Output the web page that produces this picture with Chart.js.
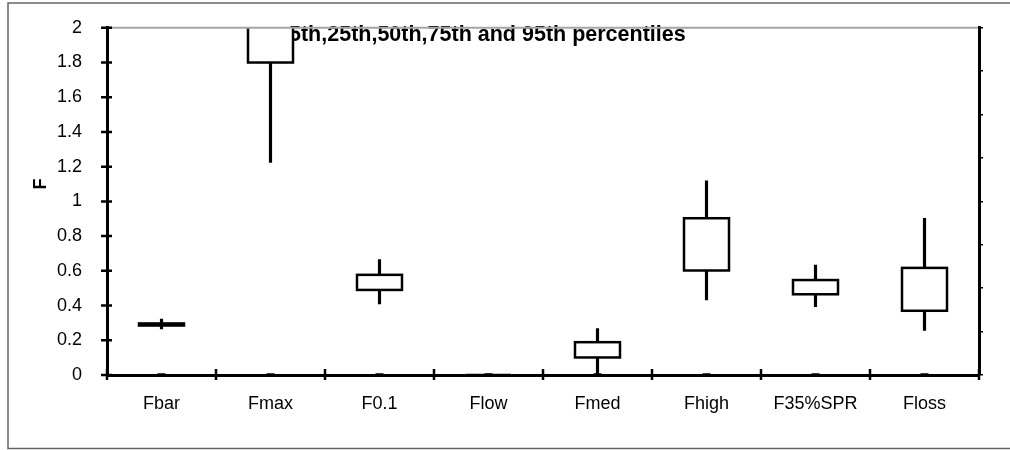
<!DOCTYPE html>
<html>
<head>
<meta charset="utf-8">
<script src="https://cdn.jsdelivr.net/npm/chart.js@4/dist/chart.umd.min.js"></script>
<style>
  html, body { margin: 0; padding: 0; background: #ffffff; }
  #wrap { width: 1010px; height: 450px; position: relative; }
</style>
</head>
<body>
<div id="wrap"><canvas id="chart" width="1010" height="450"></canvas></div>
<script>
// Reference points of F, spread as 5th / 25th / 75th / 95th percentiles
const categories = ['Fbar', 'Fmax', 'F0.1', 'Flow', 'Fmed', 'Fhigh', 'F35%SPR', 'Floss'];
const p5  = [0.265, 1.225, 0.410, 0, 0,     0.432, 0.394, 0.257];
const p25 = [0.285, 1.800, 0.490, 0, 0.101, 0.602, 0.465, 0.370];
const p75 = [0.297, 2.400, 0.577, 0, 0.189, 0.903, 0.547, 0.617];
const p95 = [0.322, 2.800, 0.665, 0, 0.267, 1.118, 0.633, 0.903];
const baseMarks = [0, 0, 0, 0, 0, 0, 0, 0];

const yTicks = { min: 0, max: 2, step: 0.2 };
const y2Ticks = { min: 0, max: 0.8, step: 0.1 };

const titleText = '5th,25th,50th,75th and 95th percentiles';
const axisTitle = 'F';
const FONT = "'Liberation Sans', Arial, sans-serif";

const whiskers = categories.map((_, i) => [p5[i], p95[i]]);
const boxes = categories.map((_, i) => [p25[i], p75[i]]);

// Title sits behind the marks, so it goes in before the datasets
const titlePlugin = {
  id: 'percentileTitle',
  beforeDatasetsDraw(chart) {
    const ctx = chart.ctx;
    ctx.save();
    ctx.font = 'bold 21.5px ' + FONT;
    ctx.fillStyle = '#000';
    ctx.textAlign = 'left';
    ctx.textBaseline = 'middle';
    ctx.fillText(titleText, 289, 35);
    ctx.restore();
  }
};

// Outline for each box, drawn around the bar elements
const boxOutline = {
  id: 'boxOutline',
  afterDatasetDraw(chart, args) {
    if (args.index !== 1) return;
    const ctx = chart.ctx;
    const a = chart.chartArea;
    ctx.save();
    ctx.beginPath();
    ctx.rect(a.left, a.top, a.right - a.left, a.bottom - a.top + 3);
    ctx.clip();
    ctx.strokeStyle = '#000';
    ctx.lineWidth = 2.5;
    args.meta.data.forEach(el => {
      const p = el.getProps(['x', 'y', 'base', 'width'], true);
      const top = Math.min(p.y, p.base);
      const h = Math.abs(p.base - p.y);
      ctx.strokeRect(p.x - p.width / 2, top, p.width, h);
    });
    ctx.restore();
  }
};

// Frame, top edge of the plot, crossing tick marks and axis title
const framePlugin = {
  id: 'frame',
  beforeDraw(chart) {
    const ctx = chart.ctx;
    ctx.save();
    ctx.fillStyle = '#fff';
    ctx.fillRect(0, 0, chart.width, chart.height);
    ctx.strokeStyle = '#666';
    ctx.lineWidth = 1.5;
    ctx.strokeRect(8, 3, chart.width + 20, chart.height - 4.5);
    ctx.restore();
  },
  afterDraw(chart) {
    const ctx = chart.ctx;
    const a = chart.chartArea;
    const xs = chart.scales.x;
    const ys = chart.scales.y;
    ctx.save();
    ctx.strokeStyle = '#a6a6a6';
    ctx.lineWidth = 2;
    ctx.beginPath();
    ctx.moveTo(a.left + 1, a.top);
    ctx.lineTo(a.right - 1, a.top);
    ctx.stroke();

    ctx.strokeStyle = '#000';
    ctx.lineWidth = 2.5;
    ctx.beginPath();
    ys.ticks.forEach((t, i) => {
      const y = ys.getPixelForTick(i);
      ctx.moveTo(a.left - 6, y);
      ctx.lineTo(a.left + 5, y);
    });
    const n = categories.length;
    const step = (xs.right - xs.left) / n;
    for (let i = 0; i <= n; i++) {
      const x = xs.left + i * step;
      ctx.moveTo(x, a.bottom - 6);
      ctx.lineTo(x, a.bottom + 5);
    }
    ctx.stroke();

    ctx.font = 'bold 18px ' + FONT;
    ctx.fillStyle = '#000';
    ctx.textAlign = 'center';
    ctx.textBaseline = 'middle';
    ctx.translate(41, 184);
    ctx.rotate(-Math.PI / 2);
    ctx.fillText(axisTitle, 0, 0);
    ctx.restore();
  }
};

new Chart(document.getElementById('chart'), {
  data: {
    labels: categories,
    datasets: [
      {
        type: 'bar',
        label: '5th-95th',
        data: whiskers,
        backgroundColor: '#000',
        borderWidth: 0,
        barThickness: 2.5,
        grouped: false,
        order: 3
      },
      {
        type: 'bar',
        label: '25th-75th',
        data: boxes,
        backgroundColor: '#fff',
        borderWidth: 0,
        barThickness: 45,
        grouped: false,
        order: 2
      },
      {
        type: 'line',
        label: 'base',
        data: baseMarks,
        showLine: false,
        pointStyle: 'line',
        pointRadius: 4,
        pointBorderWidth: 3.5,
        pointBorderColor: '#000',
        clip: false,
        order: 1
      }
    ]
  },
  options: {
    responsive: false,
    animation: false,
    events: [],
    layout: { padding: { top: 25, left: 0, right: 0, bottom: 0 } },
    plugins: {
      legend: { display: false },
      title: { display: false },
      tooltip: { enabled: false }
    },
    scales: {
      x: {
        type: 'category',
        offset: true,
        grid: { display: false, offset: true },
        border: { display: true, color: '#000', width: 3 },
        ticks: {
          color: '#000',
          font: { family: FONT, size: 18 },
          padding: 10,
          maxRotation: 0,
          autoSkip: false
        },
        afterFit(s) { s.height = 75; }
      },
      y: {
        type: 'linear',
        position: 'left',
        min: yTicks.min,
        max: yTicks.max,
        grid: { display: false },
        border: { display: true, color: '#000', width: 3 },
        ticks: {
          stepSize: yTicks.step,
          color: '#000',
          font: { family: FONT, size: 18 },
          padding: 17,
          callback: v => String(Math.round(v * 10) / 10)
        },
        afterFit(s) { s.width = 107; }
      },
      y2: {
        type: 'linear',
        position: 'right',
        min: y2Ticks.min,
        max: y2Ticks.max,
        grid: {
          display: true,
          drawOnChartArea: false,
          drawTicks: true,
          tickLength: 4,
          color: '#000',
          lineWidth: 1.5
        },
        border: { display: true, color: '#000', width: 3 },
        ticks: { stepSize: y2Ticks.step, display: false },
        afterFit(s) { s.width = 31; }
      }
    }
  },
  plugins: [framePlugin, titlePlugin, boxOutline]
});
</script>
</body>
</html>
